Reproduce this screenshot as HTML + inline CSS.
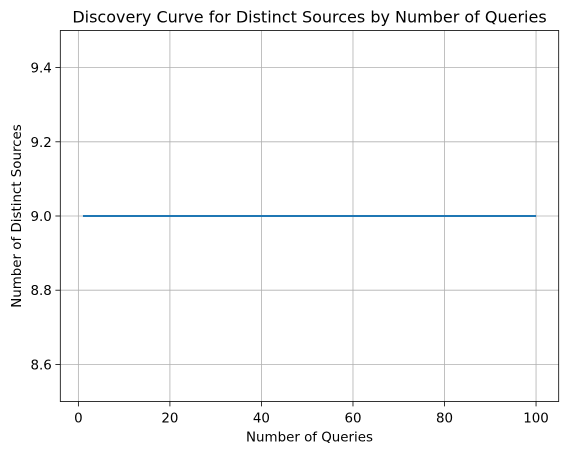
<!DOCTYPE html>
<html><head><meta charset="utf-8"><style>
body{margin:0;background:#fff;}
svg text{font-family:"DejaVu Sans","Liberation Sans",sans-serif;fill:#000;}
</style></head><body>
<svg id="chart" width="567" height="455" xmlns="http://www.w3.org/2000/svg"></svg>
<script>
const xValues = Array.from({length:100},(_,i)=>i+1);
const yValues = Array(100).fill(9);
const xTicks = [0,20,40,60,80,100];
const yTicks = [8.6,8.8,9.0,9.2,9.4];
const yTickLabels = ["8.6","8.8","9.0","9.2","9.4"];

const L=60.3,R=558.7,T=30.5,B=401.5;
const xMin=-3.95,xMax=104.95,yMin=8.5,yMax=9.5;
const sx=v=>L+(v-xMin)/(xMax-xMin)*(R-L);
const sy=v=>B-(v-yMin)/(yMax-yMin)*(B-T);
const svg=document.getElementById('chart');
const NS='http://www.w3.org/2000/svg';
function mk(tag,attrs,parent){const e=document.createElementNS(NS,tag);for(const k in attrs)e.setAttribute(k,attrs[k]);(parent||svg).appendChild(e);return e;}

xTicks.forEach(t=>{
  const x=sx(t);
  const g=mk('line',{x1:x,x2:x,y1:T,y2:B,stroke:'#b0b0b0','stroke-width':0.8});
  
  
  mk('line',{x1:x,x2:x,y1:B,y2:B+4.9,stroke:'#000','stroke-width':0.8});
  const tx=mk('text',{x:x,y:B+21,'text-anchor':'middle','font-size':13.4});
  tx.textContent=t;
  
  
});
yTicks.forEach((t,i)=>{
  const y=sy(t);
  const g=mk('line',{x1:L,x2:R,y1:y,y2:y,stroke:'#b0b0b0','stroke-width':0.8});
  
  
  mk('line',{x1:L-4.9,x2:L,y1:y,y2:y,stroke:'#000','stroke-width':0.8});
  const tx=mk('text',{x:L-8.5,y:y+5,'text-anchor':'end','font-size':13.4});
  tx.textContent=yTickLabels[i];
  
  
});
const pts=xValues.map((v,i)=>sx(v)+','+sy(yValues[i])).join(' ');
const line=mk('polyline',{points:pts,fill:'none',stroke:'#1f77b4','stroke-width':2});


const frame=mk('rect',{x:L,y:T,width:R-L,height:B-T,fill:'none',stroke:'#000','stroke-width':0.8});


const title=mk('text',{x:(L+R)/2,y:T-8,'text-anchor':'middle','font-size':16});
title.textContent='Discovery Curve for Distinct Sources by Number of Queries';


const xl=mk('text',{x:(L+R)/2,y:B+40,'text-anchor':'middle','font-size':13.4});
xl.textContent='Number of Queries';


const yl=mk('text',{x:0,y:0,'text-anchor':'middle','font-size':13.4,transform:`translate(21,${(T+B)/2}) rotate(-90)`});
yl.textContent='Number of Distinct Sources';


</script>
</body></html>
